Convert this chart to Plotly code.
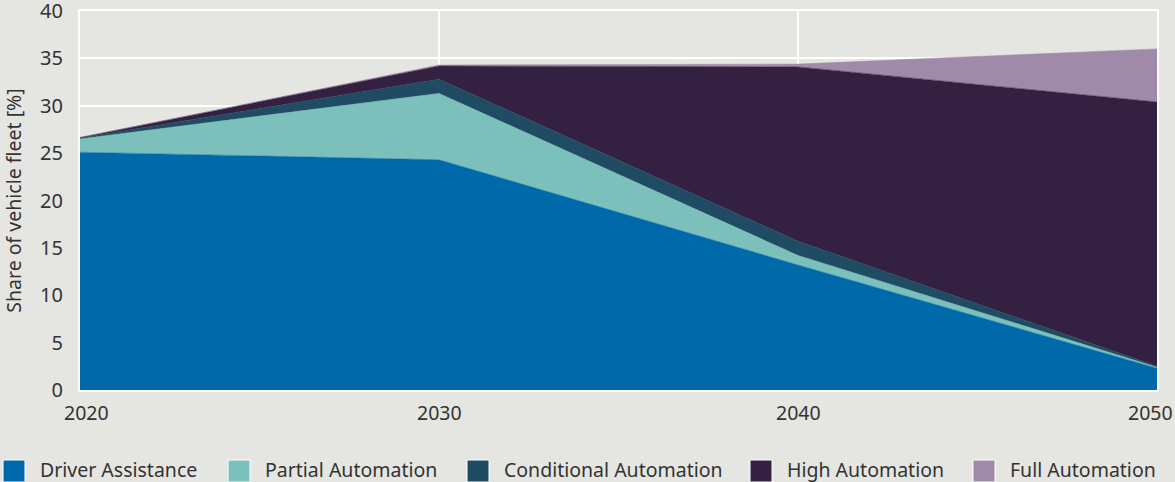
import plotly.graph_objects as go

years = [2020, 2030, 2040, 2050]
driver_assistance = [25.1, 24.3, 13.2, 2.3]
partial_automation = [1.4, 7.0, 1.0, 0.1]
conditional_automation = [0.1, 1.5, 1.5, 0.1]
high_automation = [0.05, 1.4, 18.4, 27.9]
full_automation = [0.0, 0.1, 0.3, 5.6]

names = ["Driver Assistance", "Partial Automation", "Conditional Automation",
         "High Automation", "Full Automation"]
colors = ["#0069aa", "#7bc0bb", "#1f4b63", "#342142", "#a08aa9"]
values = [driver_assistance, partial_automation, conditional_automation,
          high_automation, full_automation]
x_ticks = [2020, 2030, 2040, 2050]
y_ticks = [0, 5, 10, 15, 20, 25, 30, 35, 40]

bg = "#e5e5e1"
font = "Noto Sans"
txt = "#333333"
W, H = 1175, 482
ML, MR, MT, MB = 80, 18, 11, 92
PW = W - ML - MR
PH = H - MT - MB

fig = go.Figure()
for name, vals, col in zip(names, values, colors):
    fig.add_trace(go.Scatter(
        x=years, y=vals, name=name, mode="lines",
        stackgroup="one", line=dict(width=0.5, color=col),
        fillcolor=col, showlegend=False,
    ))

shapes = []
annotations = []

# x tick labels (edge labels nudged inward as in the original)
x_label_shift = [6, 0, 0, -7]
for xv, sh in zip(x_ticks, x_label_shift):
    annotations.append(dict(xref="x", yref="paper", x=xv, y=0, xshift=sh, yshift=-22,
                            xanchor="center", yanchor="middle", showarrow=False,
                            text=str(xv), font=dict(family=font, size=19.5, color=txt)))

# manual legend (squares + labels) below the plot
legend_left_px = [3, 228, 467, 750, 973]
sq = 22
cy = 471
for lx, name, col in zip(legend_left_px, names, colors):
    x0 = (lx - ML) / PW
    x1 = (lx + sq - ML) / PW
    y0 = (H - MB - (cy + sq / 2)) / PH
    y1 = (H - MB - (cy - sq / 2)) / PH
    shapes.append(dict(type="rect", xref="paper", yref="paper",
                       x0=x0, x1=x1, y0=y0, y1=y1,
                       fillcolor=col, line=dict(width=1, color="white")))
    annotations.append(dict(xref="paper", yref="paper",
                            x=(lx + sq + 13 - ML) / PW, y=(H - MB - (cy - 2)) / PH,
                            xanchor="left", yanchor="middle", showarrow=False,
                            text=name, font=dict(family=font, size=19.5, color=txt)))

fig.update_layout(
    width=W, height=H,
    paper_bgcolor=bg, plot_bgcolor=bg,
    margin=dict(l=ML, r=MR, t=MT, b=MB, autoexpand=False),
    font=dict(family=font, size=20, color=txt),
    showlegend=False,
    shapes=shapes, annotations=annotations,
    xaxis=dict(range=[2020, 2050], tickvals=x_ticks, showticklabels=False,
               showgrid=True, gridcolor="white", gridwidth=2,
               showline=True, linecolor="white", linewidth=2, mirror=True,
               zeroline=False, ticks=""),
    yaxis=dict(range=[0, 40], tickvals=y_ticks,
               showgrid=True, gridcolor="white", gridwidth=2,
               showline=True, linecolor="white", linewidth=2, mirror=True,
               zeroline=False, ticks="", ticklabelstandoff=11,
               ticklabeloverflow="allow",
               title=dict(text="Share of vehicle fleet [%]", standoff=16,
                          font=dict(family=font, size=19.5, color=txt)),
               tickfont=dict(family=font, size=20, color=txt)),
)

fig.write_html(
    "out.html",
    config={"displayModeBar": False},
    post_script="document.body.style.margin='0';document.body.style.overflow='hidden';",
)
